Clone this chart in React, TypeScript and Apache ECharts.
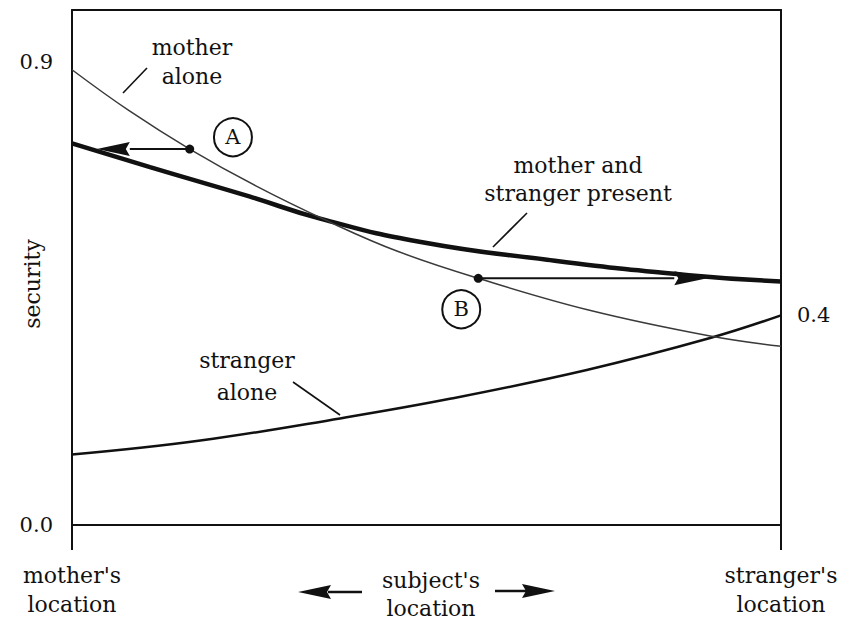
import React, { useEffect, useRef } from "react";
import * as echarts from "echarts";

// Subject's position: 0 = mother's location, 1 = stranger's location
const motherAloneX = [0, 0.08, 0.166, 0.26, 0.364, 0.46, 0.573, 0.73, 0.9, 1.0];
const motherAloneY = [0.884, 0.805, 0.73, 0.658, 0.588, 0.531, 0.479, 0.417, 0.367, 0.347];

const bothPresentX = [0, 0.11, 0.25, 0.35, 0.49, 0.67, 0.87, 1.0];
const bothPresentY = [0.741, 0.695, 0.638, 0.595, 0.55, 0.515, 0.485, 0.473];

const strangerAloneX = [0, 0.181, 0.378, 0.533, 0.726, 0.9, 1.0];
const strangerAloneY = [0.137, 0.164, 0.207, 0.245, 0.301, 0.363, 0.407];

// arrows: [fromX, fromY, toX, toY]
const arrowA = [0.166, 0.73, 0.035, 0.73];
const arrowB = [0.573, 0.479, 0.896, 0.479];

const markerNames = ["A", "B"];
const markerX = [0.227, 0.549];
const markerY = [0.753, 0.419];

const leftTicks = [0, 0.9];
const FONT = "'DejaVu Serif', serif";

const zip = (xs: number[], ys: number[]) => xs.map((x, i) => [x, ys[i]]);

export default function App() {
  const ref = useRef<HTMLDivElement>(null);
  useEffect(() => {
    if (!ref.current) return;
    const chart = echarts.init(ref.current, null, { renderer: "svg" });
    const black = "#111";
    const option: any = {
      animation: false,
      backgroundColor: "#fff",
      grid: { left: 72, right: 82, top: 10, bottom: 91 },
      xAxis: [
        {
          type: "value",
          min: 0,
          max: 1,
          position: "bottom",
          axisLine: { show: true, onZero: false, lineStyle: { color: black, width: 2 } },
          axisTick: { show: true, customValues: [0, 1], length: 25, lineStyle: { color: black, width: 2 } },
          axisLabel: {
            show: true,
            customValues: [0, 1],
            formatter: (v: number) => (v === 0 ? "mother's\nlocation" : "stranger's\nlocation"),
            margin: 36,
            fontFamily: FONT,
            fontSize: 22,
            lineHeight: 29,
            color: black,
          },
          splitLine: { show: false },
        },
        {
          type: "value",
          min: 0,
          max: 1,
          position: "top",
          axisLine: { show: true, onZero: false, lineStyle: { color: black, width: 2 } },
          axisTick: { show: false },
          axisLabel: { show: false },
          splitLine: { show: false },
        },
      ],
      yAxis: [
        {
          type: "value",
          min: 0,
          max: 1,
          position: "left",
          axisLine: { show: true, onZero: false, lineStyle: { color: black, width: 2 } },
          axisTick: { show: false },
          axisLabel: {
            show: true,
            customValues: leftTicks,
            formatter: (v: number) => v.toFixed(1),
            margin: 19,
            fontFamily: FONT,
            fontSize: 21,
            color: black,
          },
          splitLine: { show: false },
        },
        {
          type: "value",
          min: 0,
          max: 1,
          position: "right",
          axisLine: { show: true, onZero: false, lineStyle: { color: black, width: 2 } },
          axisTick: { show: false },
          axisLabel: {
            show: true,
            customValues: [strangerAloneY[strangerAloneY.length - 1]],
            formatter: (v: number) => v.toFixed(1),
            margin: 16,
            fontFamily: FONT,
            fontSize: 21,
            color: black,
          },
          splitLine: { show: false },
        },
      ],
      series: [
        {
          name: "mother alone",
          type: "line",
          data: zip(motherAloneX, motherAloneY),
          smooth: 0.4,
          showSymbol: false,
          symbol: "none",
          lineStyle: { color: "#3a3a3a", width: 1.5 },
          z: 3,
        },
        {
          name: "mother and stranger present",
          type: "line",
          data: zip(bothPresentX, bothPresentY),
          smooth: 0.5,
          showSymbol: false,
          symbol: "none",
          lineStyle: { color: black, width: 4.5 },
          z: 2,
        },
        {
          name: "stranger alone",
          type: "line",
          data: zip(strangerAloneX, strangerAloneY),
          smooth: 0.4,
          showSymbol: false,
          symbol: "none",
          lineStyle: { color: black, width: 2.5 },
          z: 2,
        },
        {
          name: "arrows",
          type: "custom",
          data: [arrowA, arrowB],
          encode: { x: [0, 2], y: [1, 3] },
          z: 4,
          renderItem: (_params: any, api: any) => {
            const p1 = api.coord([api.value(0), api.value(1)]);
            const p2 = api.coord([api.value(2), api.value(3)]);
            const dir = p2[0] > p1[0] ? 1 : -1;
            const headLen = 33;
            const halfW = 7;
            const base = p2[0] - dir * headLen;
            return {
              type: "group",
              children: [
                {
                  type: "line",
                  shape: { x1: p1[0], y1: p1[1], x2: base, y2: p2[1] },
                  style: { stroke: black, lineWidth: 2 },
                },
                {
                  type: "polygon",
                  shape: { points: [[p2[0], p2[1]], [base, p2[1] - halfW], [base + dir * 4, p2[1]], [base, p2[1] + halfW]] },
                  style: { fill: black },
                },
                {
                  type: "circle",
                  shape: { cx: p1[0], cy: p1[1], r: 4.5 },
                  style: { fill: black },
                },
              ],
            };
          },
        },
        {
          name: "markers",
          type: "scatter",
          data: markerNames.map((n, i) => ({ name: n, value: [markerX[i], markerY[i]] })),
          symbol: "circle",
          symbolSize: 38,
          itemStyle: { color: "#fff", borderColor: black, borderWidth: 2, opacity: 1 },
          label: {
            show: true,
            position: "inside",
            formatter: (p: any) => p.name,
            fontFamily: FONT,
            fontSize: 21,
            color: black,
          },
          emphasis: { disabled: true },
          z: 5,
        },
      ],
      graphic: [
        {
          type: "text",
          x: 192,
          y: 61.5,
          style: { text: "mother\nalone", font: `22px ${FONT}`, lineHeight: 29, fill: black, align: "center", verticalAlign: "middle" },
        },
        { type: "line", shape: { x1: 123, y1: 93, x2: 147, y2: 68 }, style: { stroke: black, lineWidth: 1.6 } },
        {
          type: "text",
          x: 578,
          y: 179,
          style: { text: "mother and\nstranger present", font: `22px ${FONT}`, lineHeight: 28, fill: black, align: "center", verticalAlign: "middle" },
        },
        { type: "line", shape: { x1: 493, y1: 247, x2: 527, y2: 213 }, style: { stroke: black, lineWidth: 1.6 } },
        {
          type: "text",
          x: 247,
          y: 376,
          style: { text: "stranger\nalone", font: `22px ${FONT}`, lineHeight: 32, fill: black, align: "center", verticalAlign: "middle" },
        },
        { type: "line", shape: { x1: 293, y1: 382, x2: 340, y2: 415 }, style: { stroke: black, lineWidth: 1.6 } },
        {
          type: "text",
          x: 32,
          y: 284,
          rotation: Math.PI / 2,
          style: { text: "security", font: `22px ${FONT}`, fill: black, align: "center", verticalAlign: "middle" },
        },
        {
          type: "text",
          x: 431,
          y: 594,
          style: { text: "subject's\nlocation", font: `22px ${FONT}`, lineHeight: 28, fill: black, align: "center", verticalAlign: "middle" },
        },
        { type: "line", shape: { x1: 328, y1: 592, x2: 362, y2: 592 }, style: { stroke: black, lineWidth: 2.5 } },
        { type: "polygon", shape: { points: [[298, 592], [331, 585], [327, 592], [331, 599]] }, style: { fill: black } },
        { type: "line", shape: { x1: 495, y1: 591, x2: 526, y2: 591 }, style: { stroke: black, lineWidth: 2.5 } },
        { type: "polygon", shape: { points: [[555, 591], [522, 584], [526, 591], [522, 598]] }, style: { fill: black } },
      ],
    };
    chart.setOption(option);
    return () => chart.dispose();
  }, []);
  return (
    <div
      ref={ref}
      style={{ position: "fixed", left: 0, top: 0, width: 863, height: 619, background: "#fff" }}
    />
  );
}
